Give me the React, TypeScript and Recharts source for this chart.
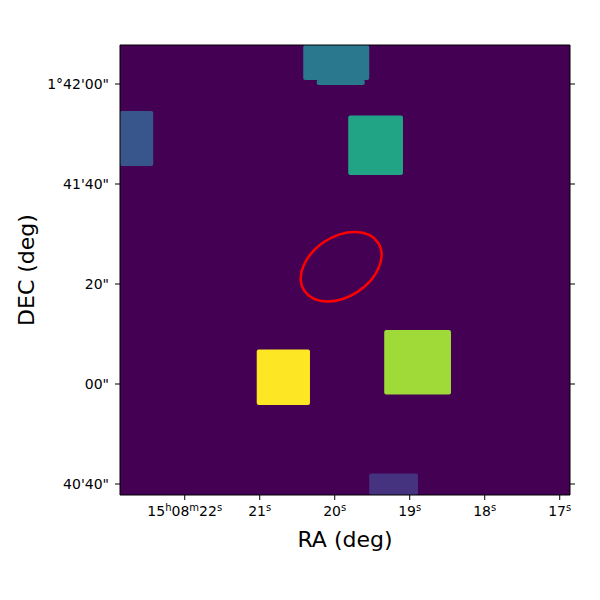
import { ComposedChart, XAxis, YAxis, ReferenceArea } from "recharts";

// RA in seconds of 15h08m, Dec in arcsec above 1°40'00"
const raTicks = [22, 21, 20, 19, 18, 17];
const decTicks = [120, 100, 80, 60, 40];
const decTickLabels = ["1°42'00\"", "41'40\"", "20\"", "00\"", "40'40\""];
const raDomain = [16.863, 22.863];
const decDomain = [37.8, 127.8];

// sources (blobs) in the image
const srcRaStart = [20.42, 20.24, 22.863, 19.82, 21.04, 19.34, 19.54];
const srcRaEnd = [19.54, 19.6, 22.42, 19.09, 20.33, 18.45, 18.89];
const srcDecTop = [127.8, 120.9, 114.6, 113.7, 66.9, 70.8, 42.1];
const srcDecBottom = [120.8, 119.8, 103.6, 101.8, 55.8, 57.9, 37.8];
const srcColors = ["#2A788E", "#2A788E", "#39568C", "#21A386", "#FDE725", "#A0DA39", "#46337F"];

// elliptical region
const regionRa = 19.914;
const regionDec = 83.46;
const regionSemiAxes = [8.8, 6.0]; // arcsec
const regionAngle = 33; // deg, counter-clockwise

const font = "DejaVu Sans";

const RaTick = (props: any) => {
  const { x, y, payload } = props;
  const v = payload.value;
  const parts = v === 22 ? [["15", "h"], ["08", "m"], ["22", "s"]] : [[String(v), "s"]];
  return (
    <text x={x} y={y + 10} textAnchor="middle" fontSize={14} fontFamily={font} fill="#000">
      {parts.map(([n, u], i) => [
        <tspan key={"n" + i} dy={i > 0 ? 5 : 0}>{n}</tspan>,
        <tspan key={"u" + i} fontSize={10} dy={-5}>{u}</tspan>,
      ])}
    </text>
  );
};

const EmptyTick = () => <g />;

const Blob = (props: any) => (
  <rect x={props.x} y={props.y} width={props.width} height={props.height} rx={2} fill={props.fill} />
);

const RegionShape = (props: any) => {
  const cx = props.x + props.width / 2;
  const cy = props.y + props.height / 2;
  return (
    <ellipse
      cx={cx}
      cy={cy}
      rx={props.width / 2}
      ry={props.height / 2}
      transform={`rotate(${-regionAngle} ${cx} ${cy})`}
      fill="none"
      stroke="#ff0000"
      strokeWidth={2.5}
    />
  );
};

export default function App() {
  const axisStyle = { stroke: "#000", strokeWidth: 1 };
  return (
    <div style={{ position: "absolute", left: 0, top: 0 }}>
      <ComposedChart width={600} height={600} margin={{ top: 0, right: 0, bottom: 0, left: 0 }}>
        <ReferenceArea
          x1={raDomain[0]}
          x2={raDomain[1]}
          y1={decDomain[0]}
          y2={decDomain[1]}
          fill="#440154"
          fillOpacity={1}
          stroke="none"
        />
        {srcColors.map((c, i) => (
          <ReferenceArea
            key={i}
            x1={srcRaStart[i]}
            x2={srcRaEnd[i]}
            y1={srcDecBottom[i]}
            y2={srcDecTop[i]}
            fill={c}
            fillOpacity={1}
            shape={Blob}
          />
        ))}
        <ReferenceArea
          x1={regionRa + regionSemiAxes[0] / 15}
          x2={regionRa - regionSemiAxes[0] / 15}
          y1={regionDec - regionSemiAxes[1]}
          y2={regionDec + regionSemiAxes[1]}
          shape={RegionShape}
        />
        <XAxis
          xAxisId={0}
          type="number"
          dataKey="ra"
          domain={raDomain}
          reversed
          allowDataOverflow
          ticks={raTicks}
          interval={0}
          height={105}
          tickSize={5}
          tickMargin={6}
          axisLine={axisStyle}
          tickLine={axisStyle}
          tick={RaTick}
          label={{ value: "RA (deg)", position: "insideTop", offset: 36, fontSize: 22, fontFamily: font, fill: "#000" }}
        />
        <XAxis
          xAxisId="top"
          orientation="top"
          type="number"
          domain={raDomain}
          reversed
          allowDataOverflow
          ticks={raTicks}
          interval={0}
          height={45}
          tickSize={5}
          axisLine={axisStyle}
          tickLine={axisStyle}
          tick={EmptyTick}
        />
        <YAxis
          yAxisId={0}
          type="number"
          dataKey="dec"
          domain={decDomain}
          allowDataOverflow
          ticks={decTicks}
          interval={0}
          width={120}
          tickSize={5}
          tickMargin={6}
          axisLine={axisStyle}
          tickLine={axisStyle}
          tickFormatter={(v: number) => decTickLabels[decTicks.indexOf(v)]}
          tick={{ fontSize: 14, fontFamily: font, fill: "#000" }}
          label={{ value: "DEC (deg)", angle: -90, position: "insideLeft", offset: 26, fontSize: 22, fontFamily: font, fill: "#000", style: { textAnchor: "middle" } }}
        />
        <YAxis
          yAxisId="right"
          orientation="right"
          type="number"
          domain={decDomain}
          allowDataOverflow
          ticks={decTicks}
          interval={0}
          width={30}
          tickSize={5}
          axisLine={axisStyle}
          tickLine={axisStyle}
          tick={EmptyTick}
        />
      </ComposedChart>
    </div>
  );
}
